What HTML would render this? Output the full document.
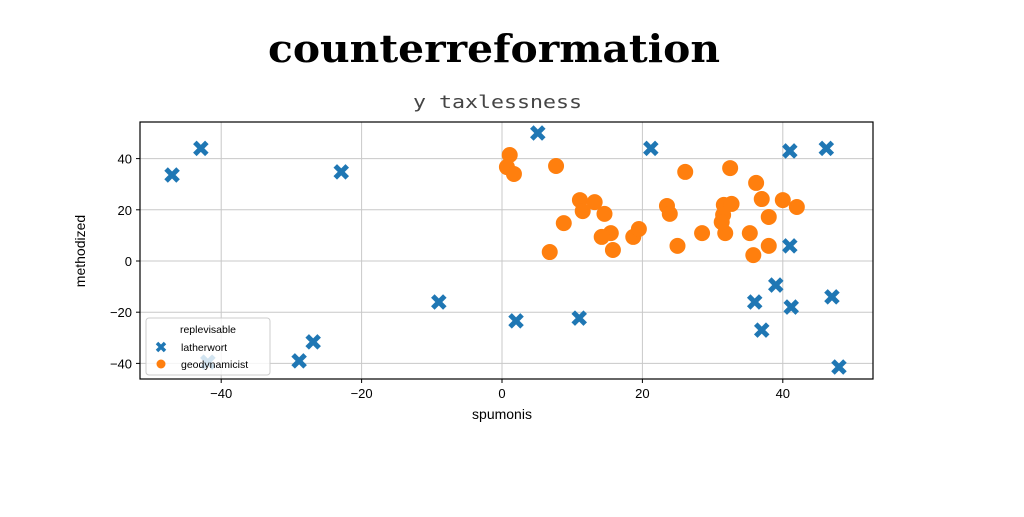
<!DOCTYPE html>
<html><head><meta charset="utf-8"><style>
body{margin:0;background:#fff;width:1024px;height:512px;overflow:hidden}
</style></head><body>
<svg width="1024" height="512" xmlns="http://www.w3.org/2000/svg">
<rect width="1024" height="512" fill="#fff"/>
<text x="268" y="62" textLength="452" lengthAdjust="spacingAndGlyphs" font-family="DejaVu Serif, serif" font-weight="bold" font-size="38">counterreformation</text>
<text x="413" y="108" textLength="169" lengthAdjust="spacingAndGlyphs" font-family="DejaVu Sans Mono, Liberation Mono, monospace" font-size="18" fill="#444">y taxlessness</text>
<g id="grid"></g>
<g id="marks"></g>
<rect x="140" y="122" width="733" height="257" fill="none" stroke="#000" stroke-width="1.2"/>
<g id="ticks" font-family="Liberation Sans, sans-serif" font-size="13"></g>
<text x="502" y="419" text-anchor="middle" font-family="Liberation Sans, sans-serif" font-size="14">spumonis</text>
<text transform="translate(85,251) rotate(-90)" text-anchor="middle" font-family="Liberation Sans, sans-serif" font-size="14">methodized</text>
<g font-family="Liberation Sans, sans-serif" font-size="10.5">
<rect x="146" y="318" width="124" height="57" rx="3" fill="#fff" fill-opacity="0.8" stroke="#ccc"/>
<text x="208" y="333" text-anchor="middle">replevisable</text>
<g><path d="M157,343 L165,351 M165,343 L157,351" stroke="#1f77b4" stroke-width="3.5"/><text x="181" y="351">latherwort</text></g>
<g><circle cx="161" cy="364" r="4.5" fill="#ff7f0e"/><text x="181" y="368">geodynamicist</text></g>
</g>
</svg>
<script>
const xTicks=[-40,-20,0,20,40];
const yTicks=[-40,-20,0,20,40];
const blueX=[-47,-42.9,-22.9,5.1,21.2,41,46.2,-9,2,11,36,39,41,41.2,37,47,48,-28.9,-26.9,-41.9];
const blueY=[33.6,44,34.8,50,44,43,44,-16,-23.4,-22.3,-16,-9.4,5.9,-18,-27,-14,-41.4,-39,-31.6,-39.5];
const orangeX=[1.1,0.7,1.7,7.7,11.1,11.5,13.2,14.6,8.8,15.5,14.2,15.8,18.7,19.5,6.8,23.5,23.9,26.1,25,28.5,31.6,31.5,32.7,31.8,32.5,36.2,37,38,40,42,35.3,35.8,38,31.3];
const orangeY=[41.4,36.7,34,37.1,23.8,19.5,23,18.4,14.8,10.9,9.4,4.3,9.4,12.5,3.5,21.5,18.4,34.8,5.9,10.9,21.9,18,22.3,10.9,36.3,30.5,24.2,17.2,23.8,21.1,10.9,2.3,5.9,15.2];
const NS="http://www.w3.org/2000/svg";
const sx=v=>502+v*7.02, sy=v=>261-v*2.56;
const grid=document.getElementById('grid'),ticks=document.getElementById('ticks'),marks=document.getElementById('marks');
function mk(t,a,p){const e=document.createElementNS(NS,t);for(const k in a)e.setAttribute(k,a[k]);p.appendChild(e);return e;}
xTicks.forEach(v=>{
 const l=mk('line',{x1:sx(v),x2:sx(v),y1:122,y2:379,stroke:'#c8c8c8'},grid);
 
 
 mk('line',{x1:sx(v),x2:sx(v),y1:379,y2:383,stroke:'#000'},ticks);
 const t=mk('text',{x:sx(v),y:398,'text-anchor':'middle'},ticks);t.textContent=v<0?'\u2212'+(-v):v;
 
 
});
yTicks.forEach(v=>{
 const l=mk('line',{x1:140,x2:873,y1:sy(v),y2:sy(v),stroke:'#c8c8c8'},grid);
 
 
 mk('line',{x1:136,x2:140,y1:sy(v),y2:sy(v),stroke:'#000'},ticks);
 const t=mk('text',{x:132,y:sy(v)+5,'text-anchor':'end'},ticks);t.textContent=v<0?'\u2212'+(-v):v;
 
 
});
blueX.forEach((v,i)=>{
 const x=sx(v),y=sy(blueY[i]);
 const p=mk('path',{d:`M${x-6},${y-6}L${x+6},${y+6}M${x+6},${y-6}L${x-6},${y+6}`,stroke:'#1f77b4','stroke-width':5},marks);
 
 
});
orangeX.forEach((v,i)=>{
 const c=mk('circle',{cx:sx(v),cy:sy(orangeY[i]),r:8,fill:'#ff7f0e'},marks);
 
 
});
</script>
</body></html>
